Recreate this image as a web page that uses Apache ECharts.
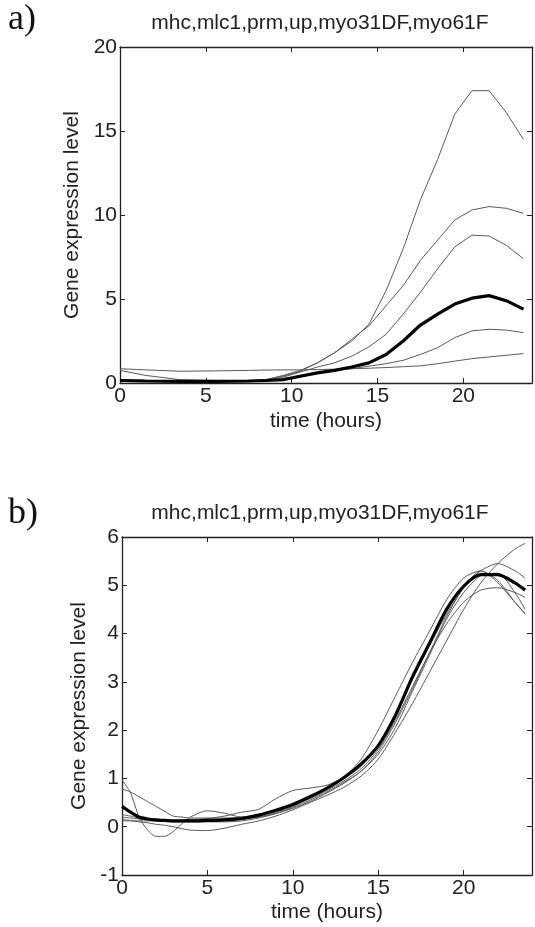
<!DOCTYPE html>
<html>
<head>
<meta charset="utf-8">
<script src="https://cdn.jsdelivr.net/npm/echarts@6/dist/echarts.min.js"></script>
<style>
  html, body { margin: 0; padding: 0; background: #fff; }
  #fig { width: 535px; height: 927px; }
</style>
</head>
<body>
<div id="fig"></div>
<script>
// panel a) time points (hours) and expression profiles
var timesA = [0, 1.5, 3.5, 5.5, 7.5, 8.5, 9.5, 10.5, 11.5, 12.5, 13.5, 14.5, 15.5, 16.5, 17.5, 18.5, 19.5, 20.5, 21.5, 22.5, 23.5];
var a1 = [0.15, 0.12, 0.1, 0.1, 0.12, 0.2, 0.4, 0.7, 1.2, 1.8, 2.5, 3.5, 5.5, 8.0, 10.9, 13.3, 16.0, 17.4, 17.4, 16.1, 14.5];
var a2 = [0.2, 0.15, 0.12, 0.1, 0.12, 0.2, 0.45, 0.75, 1.2, 1.8, 2.6, 3.4, 4.6, 5.8, 7.3, 8.5, 9.7, 10.3, 10.5, 10.4, 10.1];
var a3 = [0.15, 0.12, 0.1, 0.1, 0.12, 0.18, 0.35, 0.65, 0.95, 1.2, 1.6, 2.15, 2.9, 4.1, 5.4, 6.8, 8.1, 8.8, 8.75, 8.2, 7.4];
var a4 = [0.75, 0.45, 0.2, 0.15, 0.15, 0.15, 0.2, 0.45, 0.6, 0.75, 0.85, 1.0, 1.15, 1.35, 1.7, 2.1, 2.7, 3.1, 3.2, 3.15, 3.0];
var a5 = [0.85, 0.78, 0.7, 0.72, 0.75, 0.77, 0.78, 0.78, 0.8, 0.82, 0.85, 0.88, 0.92, 0.97, 1.02, 1.15, 1.3, 1.45, 1.55, 1.65, 1.75];
var aMean = [0.15, 0.12, 0.1, 0.1, 0.12, 0.15, 0.2, 0.4, 0.6, 0.75, 0.95, 1.2, 1.7, 2.5, 3.45, 4.1, 4.7, 5.05, 5.2, 4.9, 4.4];

// panel b) time points (hours) and normalised profiles
var timesB = [0, 0.5, 1, 1.5, 2, 2.5, 3, 3.5, 4, 5, 6, 7, 8, 9, 10, 11, 12, 13, 14, 15, 16, 17, 18, 19, 20, 21, 22, 23, 23.6];
var b1 = [0.15, 0.13, 0.1, 0.08, 0.05, 0.03, 0.0, -0.04, -0.07, -0.08, -0.03, 0.05, 0.12, 0.22, 0.35, 0.5, 0.65, 0.82, 1.05, 1.4, 1.95, 2.55, 3.2, 3.85, 4.5, 5.05, 5.45, 5.75, 5.87];
var b2 = [0.97, 0.7, 0.2, -0.07, -0.2, -0.2, -0.1, 0.06, 0.2, 0.33, 0.28, 0.2, 0.2, 0.3, 0.42, 0.6, 0.8, 1.0, 1.25, 1.7, 2.35, 3.05, 3.75, 4.4, 4.95, 5.3, 5.45, 5.3, 5.15];
var b3 = [0.78, 0.72, 0.62, 0.52, 0.42, 0.32, 0.22, 0.2, 0.18, 0.18, 0.18, 0.2, 0.25, 0.33, 0.45, 0.58, 0.75, 0.95, 1.2, 1.6, 2.2, 2.9, 3.6, 4.2, 4.65, 4.9, 4.95, 4.85, 4.75];
var b4 = [0.12, 0.12, 0.12, 0.12, 0.12, 0.12, 0.13, 0.14, 0.15, 0.17, 0.22, 0.3, 0.36, 0.58, 0.75, 0.8, 0.86, 1.03, 1.4, 2.0, 2.7, 3.4, 4.05, 4.7, 5.15, 5.3, 5.05, 4.65, 4.42];
var b5 = [0.2, 0.18, 0.16, 0.14, 0.12, 0.12, 0.12, 0.12, 0.12, 0.12, 0.13, 0.15, 0.2, 0.28, 0.4, 0.55, 0.72, 0.92, 1.15, 1.55, 2.15, 2.85, 3.6, 4.35, 4.95, 5.3, 5.1, 4.65, 4.4];
var b6 = [0.25, 0.22, 0.18, 0.15, 0.13, 0.12, 0.1, 0.1, 0.1, 0.1, 0.1, 0.12, 0.18, 0.27, 0.38, 0.52, 0.7, 0.9, 1.15, 1.5, 2.05, 2.8, 3.55, 4.3, 4.85, 5.2, 5.25, 4.85, 4.5];
var bMean = [0.42, 0.3, 0.2, 0.16, 0.14, 0.13, 0.12, 0.12, 0.12, 0.13, 0.14, 0.17, 0.24, 0.34, 0.46, 0.62, 0.8, 1.02, 1.3, 1.68, 2.3, 3.1, 3.8, 4.5, 4.98, 5.22, 5.22, 5.05, 4.9];

var titleText = 'mhc,mlc1,prm,up,myo31DF,myo61F';
var FONT = 'Liberation Sans, Arial, sans-serif';

var dom = document.getElementById('fig');
var myChart = echarts.init(dom);

function pairs(t, v) {
    return t.map(function (x, i) { return [x, v[i]]; });
}

function curve(t, v, axis, thick) {
    return {
        type: 'line',
        xAxisIndex: axis,
        yAxisIndex: axis,
        showSymbol: false,
        silent: true,
        smooth: axis === 2 ? 0.25 : false,
        z: thick ? 5 : 2,
        lineStyle: { color: thick ? '#000' : '#5a5a5a', width: thick ? 3.2 : 1 },
        data: pairs(t, v)
    };
}

// bottom/left axes carry labels, top/right ones only close the box
function xAx(grid, top, gap) {
    return {
        type: 'value', gridIndex: grid, position: top ? 'top' : 'bottom',
        min: 0, max: 24, interval: 5,
        name: top ? '' : 'time (hours)', nameLocation: 'middle', nameGap: gap,
        nameTextStyle: { fontFamily: FONT, fontSize: 21, color: '#222' },
        axisLine: { onZero: false, lineStyle: { color: '#222', width: 1.3 } },
        axisTick: { inside: true, length: 5, lineStyle: { color: '#222' } },
        axisLabel: {
            show: !top, margin: 3, fontFamily: FONT, fontSize: 21, color: '#222',
            formatter: function (v) { return v % 5 === 0 ? v : ''; }
        },
        splitLine: { show: false }
    };
}

function yAx(grid, right, min, max, step, gap) {
    return {
        type: 'value', gridIndex: grid, position: right ? 'right' : 'left',
        min: min, max: max, interval: step,
        name: right ? '' : 'Gene expression level', nameLocation: 'middle', nameGap: gap,
        nameTextStyle: { fontFamily: FONT, fontSize: 21, color: '#222' },
        axisLine: { show: true, onZero: false, lineStyle: { color: '#222', width: 1.3 } },
        axisTick: { show: true, inside: true, length: 5, lineStyle: { color: '#222' } },
        axisLabel: { show: !right, margin: 3, fontFamily: FONT, fontSize: 21, color: '#222' },
        splitLine: { show: false }
    };
}

var option = {
    backgroundColor: '#fff',
    animation: false,
    grid: [
        { left: 120, top: 47, width: 416, height: 336 },
        { left: 122, top: 537, width: 419, height: 338 }
    ],
    xAxis: [xAx(0, false, 28), xAx(0, true, 0), xAx(1, false, 27), xAx(1, true, 0)],
    yAxis: [yAx(0, false, 0, 20, 5, 35), yAx(0, true, 0, 20, 5, 0), yAx(1, false, -1, 6, 1, 26), yAx(1, true, -1, 6, 1, 0)],
    graphic: [
        { type: 'text', left: 8, top: 2, style: { text: 'a)', font: '36px "Liberation Serif", "Times New Roman", serif', fill: '#111' } },
        { type: 'text', left: 8, top: 496, style: { text: 'b)', font: '36px "Liberation Serif", "Times New Roman", serif', fill: '#111' } },
        { type: 'text', x: 320, y: 23, style: { text: titleText, font: '21px ' + FONT, fill: '#222', textAlign: 'center', textVerticalAlign: 'middle' } },
        { type: 'text', x: 320, y: 513, style: { text: titleText, font: '21px ' + FONT, fill: '#222', textAlign: 'center', textVerticalAlign: 'middle' } }
    ],
    series: [
        curve(timesA, a1, 0), curve(timesA, a2, 0), curve(timesA, a3, 0),
        curve(timesA, a4, 0), curve(timesA, a5, 0), curve(timesA, aMean, 0, true),
        curve(timesB, b1, 2), curve(timesB, b2, 2), curve(timesB, b3, 2),
        curve(timesB, b4, 2), curve(timesB, b5, 2), curve(timesB, b6, 2),
        curve(timesB, bMean, 2, true)
    ]
};

if (option && typeof option === 'object') {
    myChart.setOption(option);
}
</script>
</body>
</html>
